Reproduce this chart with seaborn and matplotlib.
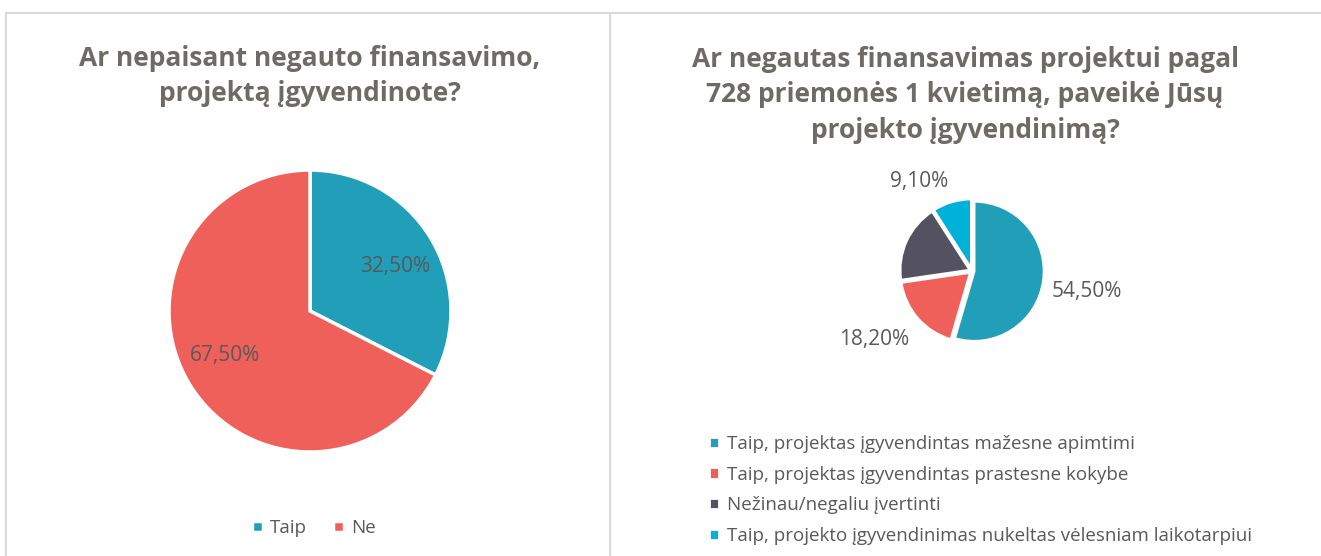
import numpy as np
import matplotlib
matplotlib.use("Agg")
import matplotlib.pyplot as plt
import seaborn as sns
from matplotlib.lines import Line2D

# data
left_title = "Ar nepaisant negauto finansavimo,\nprojektą įgyvendinote?"
left_labels = ["Taip", "Ne"]
left_values = [32.5, 67.5]

right_title = "Ar negautas finansavimas projektui pagal\n728 priemonės 1 kvietimą, paveikė Jūsų\nprojekto įgyvendinimą?"
right_labels = ["Taip, projektas įgyvendintas mažesne apimtimi",
                "Taip, projektas įgyvendintas prastesne kokybe",
                "Nežinau/negaliu įvertinti",
                "Taip, projekto įgyvendinimas nukeltas vėlesniam laikotarpiui"]
right_values = [54.5, 18.2, 18.2, 9.1]
right_shown = [True, True, False, True]

palette = sns.color_palette(["#219FB8", "#F0605A", "#545160", "#00B1D8"])

sns.set_theme(style="white")
plt.rcParams["font.family"] = ["Open Sans", "DejaVu Sans"]

W, H = 1321, 556
fig = plt.figure(figsize=(W / 100, H / 100), dpi=100)
fig.patch.set_facecolor("white")

title_col = "#6E6A66"
text_col = "#595959"


def fmt(v):
    return f"{v:.2f}".replace(".", ",") + "%"


def pie_axes(cx, cy, r, pad=1.1):
    s = r * pad
    ax = fig.add_axes([(cx - s) / W, 1 - (cy + s) / H, 2 * s / W, 2 * s / H])
    ax.axis("off")
    return ax


def fix_limits(ax, pad):
    ax.set_xlim(-pad, pad)
    ax.set_ylim(-pad, pad)
    ax.set_aspect("equal")


# panel borders
border = dict(color="#D9D9D9", lw=1.5, transform=fig.transFigure)
fig.add_artist(Line2D([6 / W, 1], [1 - 13 / H, 1 - 13 / H], **border))
fig.add_artist(Line2D([6 / W, 6 / W], [0, 1 - 13 / H], **border))
fig.add_artist(Line2D([610 / W, 610 / W], [0, 1 - 13 / H], **border))

# left chart
ax1 = pie_axes(310, 311, 141)
wedges, _ = ax1.pie(left_values, colors=palette[:2], startangle=90, counterclock=False,
                    radius=1, wedgeprops=dict(edgecolor="white", linewidth=2.5))
fix_limits(ax1, 1.1)
for w, v in zip(wedges, left_values):
    ang = np.deg2rad((w.theta1 + w.theta2) / 2 - 4)
    ax1.text(0.68 * np.cos(ang), 0.68 * np.sin(ang), fmt(v), ha="center", va="center",
             fontsize=15, color=text_col)
fig.text(310 / W, 1 - 76 / H, left_title, ha="center", va="center", fontsize=19,
         fontweight="bold", color=title_col, linespacing=1.42)
fig.legend(wedges, left_labels, loc="center", bbox_to_anchor=(314 / W, 1 - 528 / H), ncol=2,
           frameon=False, fontsize=13.5, handlelength=0.55, handleheight=0.55, handletextpad=0.4,
           columnspacing=1.4, labelcolor=text_col)

# right chart
ax2 = pie_axes(972, 271, 70, pad=1.9)
wedges2, _ = ax2.pie(right_values, colors=palette, startangle=90, counterclock=False,
                     radius=1, explode=[0.03] * 4,
                     wedgeprops=dict(edgecolor="white", linewidth=2))
fix_limits(ax2, 1.9)
offsets = [(1.66, -2), (1.70, -6), (1.6, 0), (1.49, 14)]
for w, v, show, (d, da) in zip(wedges2, right_values, right_shown, offsets):
    if not show:
        continue
    ang = np.deg2rad((w.theta1 + w.theta2) / 2 + da)
    ax2.text(d * np.cos(ang), d * np.sin(ang), fmt(v), ha="center", va="center",
             fontsize=15, color=text_col)
fig.text(965 / W, 1 - 95 / H, right_title, ha="center", va="center", fontsize=19,
         fontweight="bold", color=title_col, linespacing=1.42)
fig.legend(wedges2, right_labels, loc="upper left", bbox_to_anchor=(692 / W, 1 - 418 / H),
           ncol=1, frameon=False, fontsize=13.5, handlelength=0.55, handleheight=0.55,
           handletextpad=0.4, labelspacing=0.68, labelcolor=text_col)

fig.savefig("out.png", dpi=100, facecolor="white")
